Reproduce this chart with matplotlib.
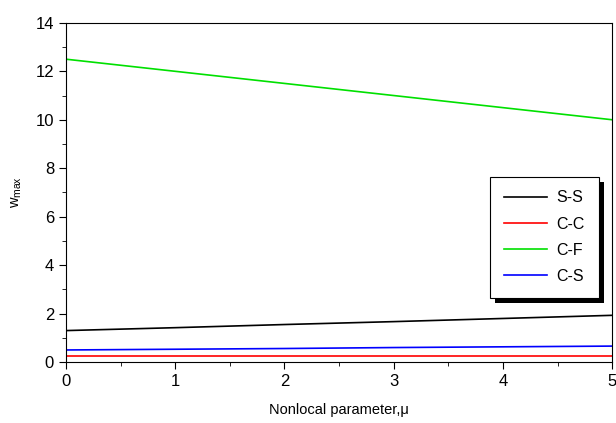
import matplotlib.pyplot as plt
from matplotlib.ticker import MultipleLocator
from matplotlib.patches import Rectangle

plt.rcParams['font.family'] = ['Liberation Sans', 'DejaVu Sans']
plt.rcParams['mathtext.fontset'] = 'custom'
plt.rcParams['mathtext.rm'] = 'Liberation Sans'

# nonlocal parameter values and max deflection per boundary condition
mu = [0, 1, 2, 3, 4, 5]
ss = [1.30, 1.42, 1.55, 1.67, 1.80, 1.93]
cc = [0.25, 0.25, 0.25, 0.25, 0.25, 0.25]
cf = [12.50, 12.00, 11.50, 11.00, 10.50, 10.00]
cs = [0.50, 0.53, 0.56, 0.60, 0.63, 0.66]

fig = plt.figure(figsize=(6.16, 4.23), dpi=100)
ax = fig.add_axes([0.107, 0.144, 0.887, 0.802])

ax.plot(mu, ss, color='black', lw=1.2, label='S-S')
ax.plot(mu, cc, color='red', lw=1.2, label='C-C')
ax.plot(mu, cf, color='#00e000', lw=1.2, label='C-F')
ax.plot(mu, cs, color='blue', lw=1.2, label='C-S')

ax.set_xlim(0, 5)
ax.set_ylim(0, 14)
ax.xaxis.set_major_locator(MultipleLocator(1))
ax.xaxis.set_minor_locator(MultipleLocator(0.5))
ax.yaxis.set_major_locator(MultipleLocator(2))
ax.yaxis.set_minor_locator(MultipleLocator(1))
ax.tick_params(which='both', direction='out', top=False, right=False, labelsize=12)
ax.tick_params(which='major', length=5)
ax.tick_params(which='minor', length=3)

ax.set_xlabel('Nonlocal parameter,\u03bc', fontsize=10.5, labelpad=10)
ax.set_ylabel(r'w$_{\rm max}$', fontsize=10.5, labelpad=8)

leg = ax.legend(loc='upper left', bbox_to_anchor=(0.777, 0.546), fontsize=11.5,
                frameon=True, fancybox=False, edgecolor='black', framealpha=1,
                handlelength=2.7, handletextpad=0.6, borderpad=0.85,
                labelspacing=0.7, borderaxespad=0)
leg.get_frame().set_linewidth(0.8)
leg.set_zorder(5)

# thick black drop shadow behind the legend box
fig.canvas.draw()
bb = leg.get_window_extent()
ax.add_patch(Rectangle((bb.x0 + 5, bb.y0 - 5), bb.width, bb.height,
                       transform=None, facecolor='black', edgecolor='none',
                       zorder=4.9, clip_on=False))

fig.savefig('out.png', dpi=100)
